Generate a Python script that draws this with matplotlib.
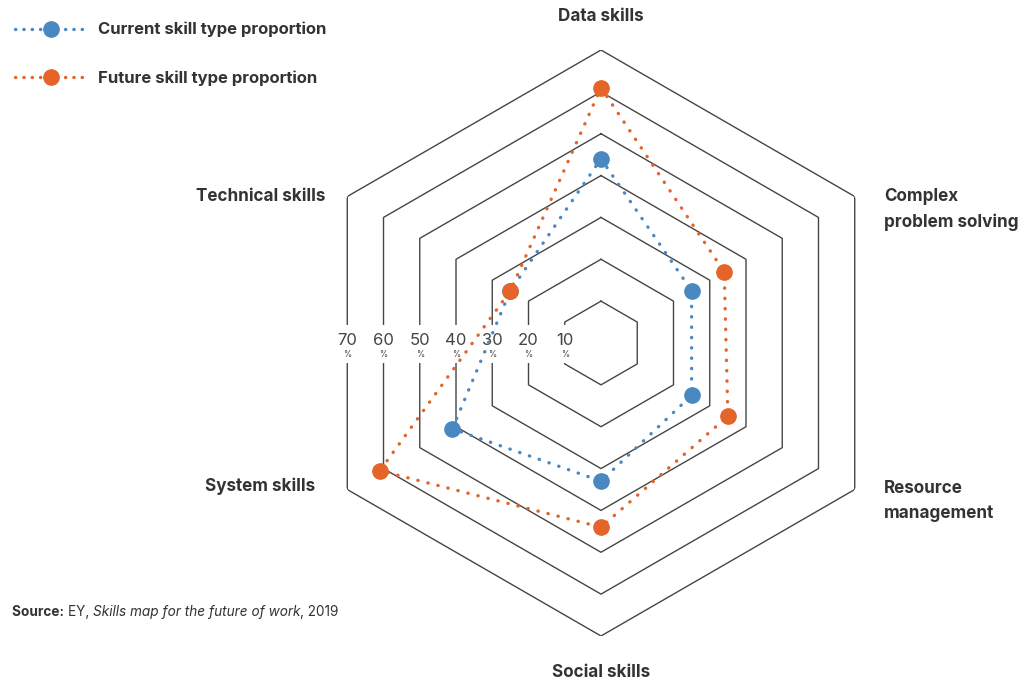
"""Radar chart of current vs future skill type proportions."""

import numpy as np
import matplotlib.pyplot as plt

plt.rcParams["font.family"] = ["Inter", "DejaVu Sans"]

# Data (percent)
categories = [
    "Data skills",
    "Complex\nproblem solving",
    "Resource\nmanagement",
    "Social skills",
    "System skills",
    "Technical skills",
]
current = [44, 25, 25, 33, 41, 25]
future = [61, 34, 35, 44, 61, 25]
rings = [10, 20, 30, 40, 50, 60, 70]

BLUE = "#4a88c2"
ORANGE = "#e4642a"
GRID = "#454545"
TEXT = "#333333"

fig = plt.figure(figsize=(10.27, 6.86), dpi=100)
ax = fig.add_axes([0.2999, 0.0729, 0.5706, 0.8542], projection="polar")
ax.set_theta_zero_location("N")
ax.set_theta_direction(-1)
ax.set_ylim(0, 70)
ax.axis("off")

angles = np.linspace(0, 2 * np.pi, len(categories), endpoint=False)
closed = np.append(angles, angles[0])

# hexagonal grid rings
for r in rings:
    ax.plot(closed, [r] * len(closed), color=GRID, lw=1.0, zorder=1)

# ring labels on the left vertical edges
left = 3 * np.pi / 2
for r in rings:
    rr = r * np.cos(np.pi / 6)
    ax.annotate(str(r), xy=(left, rr), xytext=(0, 2), textcoords="offset points",
                ha="center", va="center", fontsize=12, color="#444444",
                bbox=dict(boxstyle="square,pad=0.45", fc="white", ec="none"),
                zorder=3)
    ax.annotate("%", xy=(left, rr), xytext=(0, -8.5), textcoords="offset points",
                ha="center", va="center", fontsize=6, color="#444444",
                bbox=dict(boxstyle="square,pad=0.5", fc="white", ec="none"),
                zorder=3)


def draw_series(values, color, label):
    vals = list(values) + [values[0]]
    ax.plot(closed, vals, color=color, lw=2.4, linestyle=(0, (0.1, 3.0)),
            dash_capstyle="round", zorder=4)
    ax.plot(angles, values, linestyle="none", marker="o", markersize=11,
            color=color, zorder=5)
    return ax.plot([], [], color=color, lw=2.4, linestyle=(0, (0.1, 2.4)),
                   dash_capstyle="round", marker="o", markersize=11,
                   label=label)[0]


h1 = draw_series(current, BLUE, "Current skill type proportion")
h2 = draw_series(future, ORANGE, "Future skill type proportion")

# category labels around the outer ring (offsets in points)
offsets = [(0, 24), (21, -9.5), (21, -8), (0, -26), (-23, 2), (-16, 0)]
aligns = ["center", "left", "left", "center", "right", "right"]
for ang, name, off, ha in zip(angles, categories, offsets, aligns):
    ax.annotate(name, xy=(ang, 70), xytext=off, textcoords="offset points",
                ha=ha, va="center", fontsize=12.3, fontweight="bold", color=TEXT,
                linespacing=1.6, annotation_clip=False)

fig.legend(handles=[h1, h2], loc="upper left", bbox_to_anchor=(0.0, 0.99),
           frameon=False, handlelength=4.3, handletextpad=0.7,
           labelspacing=2.0, prop=dict(weight="bold", size=12))
for t in fig.legends[0].get_texts():
    t.set_color(TEXT)

# source line: mixed upright / italic pieces
src = fig.text(0.012, 0.102, "Source: ", fontsize=9.8, fontweight="bold",
               color=TEXT, va="baseline")
src2 = ax.annotate("EY, ", xy=(1, 0), xycoords=src, fontsize=9.8, color=TEXT,
                   va="bottom")
src3 = ax.annotate("Skills map for the future of work", xy=(1, 0), xycoords=src2,
                   fontsize=9.8, style="italic", color=TEXT, va="bottom")
ax.annotate(", 2019", xy=(1, 0), xycoords=src3, fontsize=9.8, color=TEXT,
            va="bottom")

fig.savefig("out.png", dpi=100)
